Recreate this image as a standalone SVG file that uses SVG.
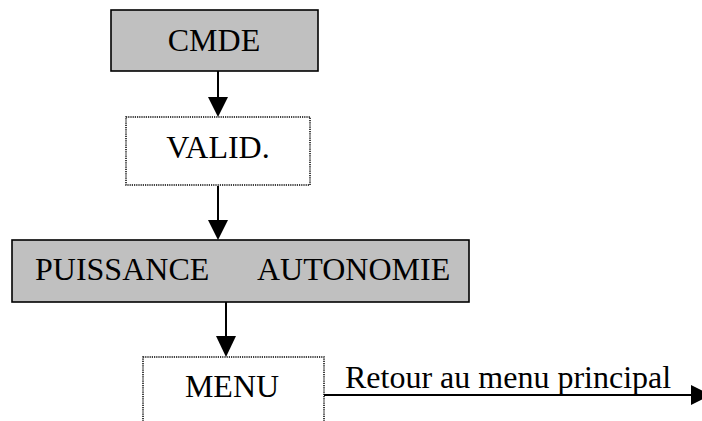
<svg xmlns="http://www.w3.org/2000/svg" width="702" height="421" viewBox="0 0 702 421">
  <style>
    .solid { fill: #c0c0c0; stroke: #000; stroke-width: 1.6; }
    .dotted { fill: #fff; stroke: #000; stroke-width: 1.5; stroke-dasharray: 1.2 1; }
    .label { font-family: "Liberation Serif", "Times New Roman", serif; font-size: 32px; fill: #000; }
    .mid { text-anchor: middle; }
    .wire { stroke: #000; stroke-width: 2; fill: none; }
    .head { fill: #000; }
  </style>
  <rect width="702" height="421" fill="#fff"/>

  <g id="connectors">
    <line class="wire" x1="218" y1="71" x2="218" y2="100"/>
    <polygon class="head" points="208,97 228,97 218,117"/>
    <line class="wire" x1="218" y1="186" x2="218" y2="222"/>
    <polygon class="head" points="208,220 228,220 218,240"/>
    <line class="wire" x1="226" y1="302" x2="226" y2="338"/>
    <polygon class="head" points="216,336 236,336 226,357"/>
    <line class="wire" x1="324" y1="395" x2="694" y2="395"/>
    <polygon class="head" points="691,385 711,395 691,405"/>
  </g>

  <g id="cmde">
    <rect class="solid" x="111" y="10" width="207" height="61"/>
    <text class="label mid" x="214" y="51">CMDE</text>
  </g>

  <g id="valid">
    <rect class="dotted" x="126" y="117" width="184" height="68"/>
    <text class="label mid" x="218" y="158">VALID.</text>
  </g>

  <g id="puissance-autonomie">
    <rect class="solid" x="12" y="240" width="457" height="62"/>
    <text class="label" x="35" y="280">PUISSANCE</text>
    <text class="label" x="257" y="280">AUTONOMIE</text>
  </g>

  <g id="menu">
    <rect class="dotted" x="143" y="357" width="181" height="80"/>
    <text class="label mid" x="232" y="397">MENU</text>
  </g>

  <text class="label" x="345" y="388">Retour au menu principal</text>
</svg>
